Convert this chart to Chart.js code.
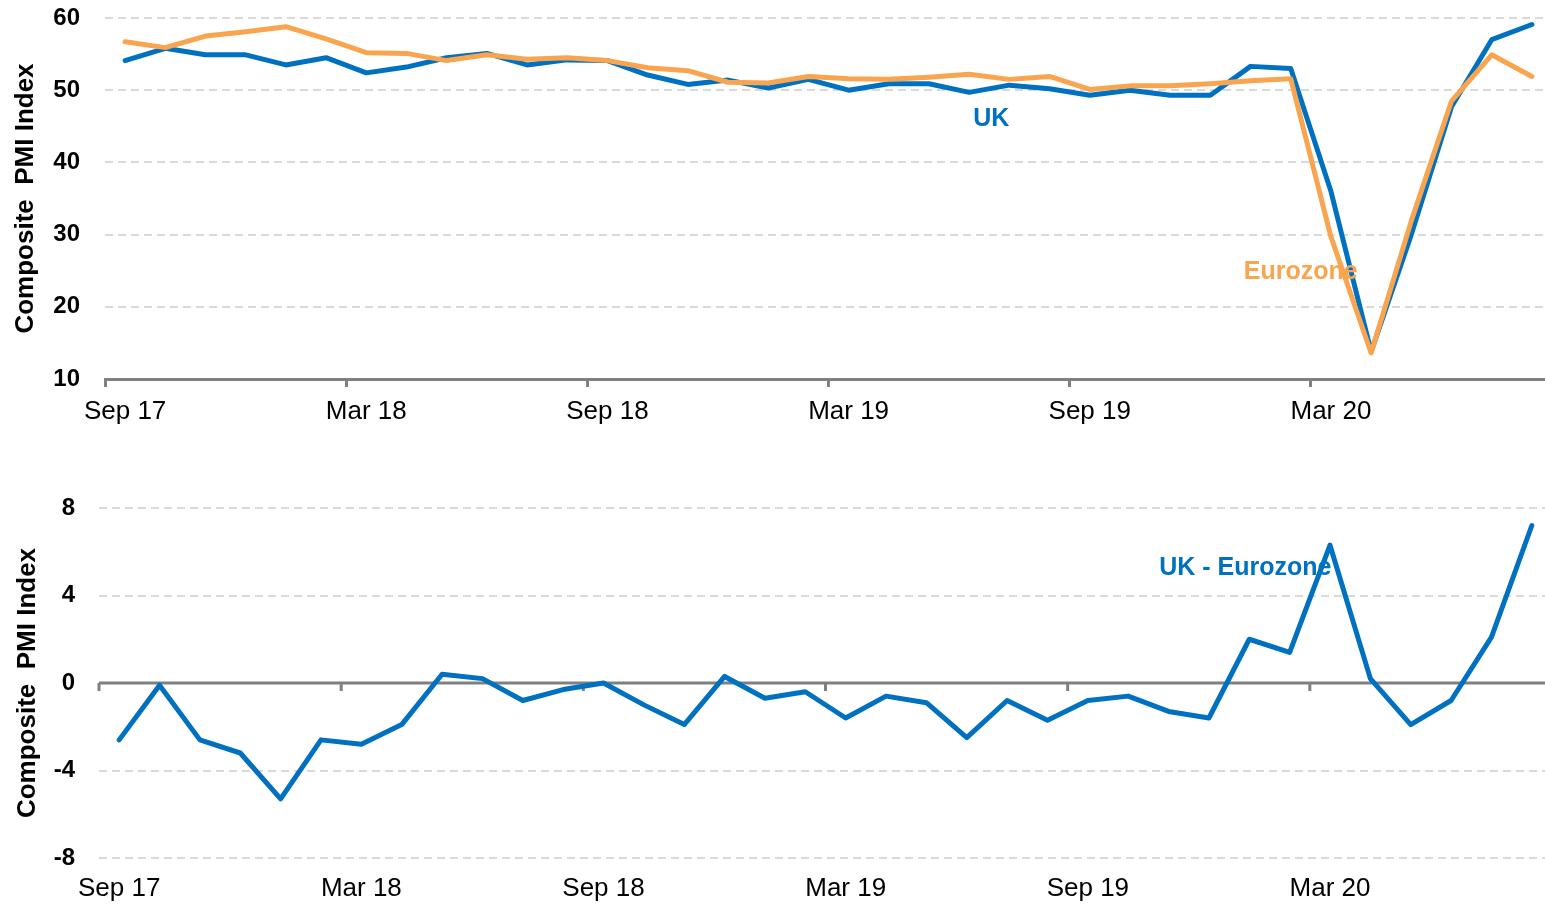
<!DOCTYPE html>
<html>
<head>
<meta charset="utf-8">
<title>UK vs Eurozone Composite PMI</title>
<script src="https://cdn.jsdelivr.net/npm/chart.js@4.4.1/dist/chart.umd.min.js"></script>
<style>
  html, body { margin: 0; padding: 0; background: #fff; }
  #wrap { position: relative; width: 1545px; height: 905px; overflow: hidden; }
  .panel { position: absolute; left: 0; width: 1552px; }
  #top { top: 0; height: 440px; }
  #bottom { top: 460px; height: 445px; }
</style>
</head>
<body>
<div id="wrap">
  <div class="panel" id="top"><canvas id="pmiChart"></canvas></div>
  <div class="panel" id="bottom"><canvas id="diffChart"></canvas></div>
</div>
<script>
// monthly categories, Sep 17 -> Aug 20
const months = [
  'Sep 17', 'Oct 17', 'Nov 17', 'Dec 17', 'Jan 18', 'Feb 18', 'Mar 18', 'Apr 18', 'May 18',
  'Jun 18', 'Jul 18', 'Aug 18', 'Sep 18', 'Oct 18', 'Nov 18', 'Dec 18', 'Jan 19', 'Feb 19',
  'Mar 19', 'Apr 19', 'May 19', 'Jun 19', 'Jul 19', 'Aug 19', 'Sep 19', 'Oct 19', 'Nov 19',
  'Dec 19', 'Jan 20', 'Feb 20', 'Mar 20', 'Apr 20', 'May 20', 'Jun 20', 'Jul 20', 'Aug 20'
];

const ukPmi = [
  54.1, 55.8, 54.9, 54.9, 53.5, 54.5, 52.4, 53.2, 54.5, 55.1, 53.5, 54.2,
  54.1, 52.1, 50.8, 51.4, 50.3, 51.5, 50.0, 50.9, 50.9, 49.7, 50.7, 50.2,
  49.3, 50.0, 49.3, 49.3, 53.3, 53.0, 36.0, 13.8, 30.0, 47.7, 57.0, 59.1
];

const ezPmi = [
  56.7, 55.9, 57.5, 58.1, 58.8, 57.1, 55.2, 55.1, 54.1, 54.9, 54.3, 54.5,
  54.1, 53.1, 52.7, 51.1, 51.0, 51.9, 51.6, 51.5, 51.8, 52.2, 51.5, 51.9,
  50.1, 50.6, 50.6, 50.9, 51.3, 51.6, 29.7, 13.6, 31.9, 48.5, 54.9, 51.9
];

// UK minus Eurozone
const ukMinusEz = [
  -2.6, -0.1, -2.6, -3.2, -5.3, -2.6, -2.8, -1.9, 0.4, 0.2, -0.8, -0.3,
  0.0, -1.0, -1.9, 0.3, -0.7, -0.4, -1.6, -0.6, -0.9, -2.5, -0.8, -1.7,
  -0.8, -0.6, -1.3, -1.6, 2.0, 1.4, 6.3, 0.2, -1.9, -0.8, 2.1, 7.2
];

const pmiRange = [10, 60];
const diffRange = [-8, 8];

const BLUE = '#0070C0';
const ORANGE = '#F9A44E';
const GRID = '#D9D9D9';
const AXIS = '#808080';
const FONT = "'Liberation Sans', Arial, sans-serif";

Chart.defaults.font.family = FONT;
Chart.defaults.color = '#000';

// only every 6th month gets a label / tick
const sixMonthLabel = (value, index) => index % 6 === 0 ? months[index] : '';

// fixed width for the y axis, and no extra space reserved above/below it
const fixYAxis = (width) => (scale) => {
  scale.width = width;
  scale.paddingTop = 0;
  scale.paddingBottom = 0;
};

// text labels placed on the series, positioned through the scales
const seriesLabels = {
  id: 'seriesLabels',
  afterDatasetsDraw(chart, args, opts) {
    const { ctx, scales: { x, y } } = chart;
    ctx.save();
    ctx.font = 'bold 25px ' + FONT;
    ctx.textAlign = 'center';
    ctx.textBaseline = 'middle';
    opts.items.forEach(item => {
      ctx.fillStyle = item.color;
      ctx.fillText(item.text, x.getPixelForValue(item.at), y.getPixelForValue(item.value));
    });
    ctx.restore();
  }
};

// zero line with half-year tick marks for the lower panel
const zeroAxis = {
  id: 'zeroAxis',
  beforeDatasetsDraw(chart) {
    const { ctx, chartArea, scales: { x, y } } = chart;
    const y0 = y.getPixelForValue(0);
    const half = (x.getPixelForValue(1) - x.getPixelForValue(0)) / 2;
    ctx.save();
    ctx.strokeStyle = AXIS;
    ctx.lineWidth = 3;
    ctx.beginPath();
    ctx.moveTo(chartArea.left, y0);
    ctx.lineTo(chartArea.right, y0);
    for (let i = 0; i < months.length; i += 6) {
      const px = x.getPixelForValue(i) - half;
      ctx.moveTo(px, y0);
      ctx.lineTo(px, y0 + 8);
    }
    ctx.stroke();
    ctx.restore();
  }
};

const yTitle = (pad) => ({
  display: true,
  text: 'Composite  PMI Index',
  font: { size: 26, weight: 'bold' },
  padding: { top: pad, bottom: 0 }
});

const lineStyle = {
  borderWidth: 5,
  pointRadius: 0,
  tension: 0,
  borderJoinStyle: 'round',
  borderCapStyle: 'round'
};

// top chart: the two PMI series
const ctx1 = document.getElementById('pmiChart').getContext('2d');
const chart1 = new Chart(ctx1, {
  type: 'line',
  data: {
    labels: months,
    datasets: [
      { label: 'Eurozone', data: ezPmi, borderColor: ORANGE, ...lineStyle },
      { label: 'UK', data: ukPmi, borderColor: BLUE, ...lineStyle }
    ]
  },
  options: {
    responsive: true,
    maintainAspectRatio: false,
    animation: false,
    layout: { padding: { top: 18, left: 0, right: 0, bottom: 0 } },
    plugins: {
      legend: { display: false },
      tooltip: { enabled: false },
      seriesLabels: {
        items: [
          { text: 'UK', color: BLUE, at: 21.55, value: 46.0 },
          { text: 'Eurozone', color: ORANGE, at: 29.25, value: 24.8 }
        ]
      }
    },
    scales: {
      x: {
        offset: true,
        grid: {
          offset: true,
          drawOnChartArea: false,
          drawTicks: true,
          tickLength: 8,
          tickWidth: 3,
          tickColor: ctx => ctx.index % 6 === 0 ? AXIS : 'rgba(0,0,0,0)'
        },
        border: { display: true, color: AXIS, width: 3 },
        ticks: {
          autoSkip: false,
          maxRotation: 0,
          padding: 9,
          font: { size: 26 },
          callback: sixMonthLabel
        },
        afterFit: scale => { scale.height = 61; }
      },
      y: {
        min: pmiRange[0],
        max: pmiRange[1],
        ticks: { stepSize: 10, padding: 25, font: { size: 24, weight: 'bold' } },
        grid: {
          drawTicks: false,
          lineWidth: 2,
          color: ctx => ctx.tick && ctx.tick.value === pmiRange[0] ? 'rgba(0,0,0,0)' : GRID
        },
        border: { display: false, dash: [8, 5] },
        title: yTitle(10),
        afterFit: fixYAxis(105)
      }
    }
  },
  plugins: [seriesLabels]
});

// bottom chart: UK minus Eurozone
const ctx2 = document.getElementById('diffChart').getContext('2d');
const chart2 = new Chart(ctx2, {
  type: 'line',
  data: {
    labels: months,
    datasets: [
      { label: 'UK - Eurozone', data: ukMinusEz, borderColor: BLUE, ...lineStyle }
    ]
  },
  options: {
    responsive: true,
    maintainAspectRatio: false,
    animation: false,
    layout: { padding: { top: 48, left: 0, right: 0, bottom: 0 } },
    plugins: {
      legend: { display: false },
      tooltip: { enabled: false },
      seriesLabels: {
        items: [
          { text: 'UK - Eurozone', color: BLUE, at: 27.9, value: 5.25 }
        ]
      }
    },
    scales: {
      x: {
        offset: true,
        grid: { display: false, drawTicks: false },
        border: { display: false },
        ticks: {
          autoSkip: false,
          maxRotation: 0,
          padding: 15,
          font: { size: 26 },
          callback: sixMonthLabel
        },
        afterFit: scale => { scale.height = 47; }
      },
      y: {
        min: diffRange[0],
        max: diffRange[1],
        ticks: { stepSize: 4, padding: 24, font: { size: 24, weight: 'bold' } },
        grid: {
          drawTicks: false,
          lineWidth: 2,
          color: ctx => ctx.tick && ctx.tick.value === 0 ? 'rgba(0,0,0,0)' : GRID
        },
        border: { display: false, dash: [8, 5] },
        title: yTitle(12),
        afterFit: fixYAxis(99)
      }
    }
  },
  plugins: [zeroAxis, seriesLabels]
});
</script>
</body>
</html>
